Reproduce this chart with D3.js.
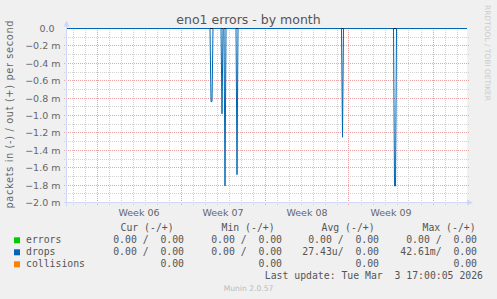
<!DOCTYPE html>
<meta charset="utf-8">
<script src="https://d3js.org/d3.v7.min.js"></script>
<style>
  body { margin: 0; background: #f0f0f0; }
  svg text { font-family: 'DejaVu Sans', sans-serif; fill: #666666; }
  svg text.mono { font-family: 'DejaVu Sans Mono', monospace; white-space: pre; fill: #555555; }
</style>
<body>
<div id="my_dataviz"></div>

<script>
// series shown in the legend
var seriesNames = ["errors", "drops", "collisions"];
var seriesColors = ["#00cc00", "#0066b3", "#ff8000"];

// drops (in) non-zero samples (2 h steps), in milli-packets per second, drawn negative
var dropTimes = ["2026-02-11T12:00:00Z", "2026-02-11T14:00:00Z", "2026-02-12T10:00:00Z",
                 "2026-02-12T16:00:00Z", "2026-02-13T16:00:00Z", "2026-02-22T11:00:00Z",
                 "2026-02-26T19:00:00Z", "2026-02-26T21:00:00Z"];
var dropValues = [-0.84, -0.84, -0.98, -1.81, -1.68, -1.25, -1.81, -1.81];

var weekLabels = ["Week 06", "Week 07", "Week 08", "Week 09"];

// legend table (in / out)
var curIn  = ["0.00", "0.00", null],   curOut = ["0.00", "0.00", "0.00"];
var minIn  = ["0.00", "0.00", null],   minOut = ["0.00", "0.00", "0.00"];
var avgIn  = ["0.00", "27.43u", null], avgOut = ["0.00", "0.00", "0.00"];
var maxIn  = ["0.00", "42.61m", null], maxOut = ["0.00", "0.00", "0.00"];

var W = 497, H = 299;
var pL = 67, pR = 467, pT = 28, pB = 203;

var svg = d3.select("#my_dataviz")
  .append("svg")
    .attr("width", W)
    .attr("height", H);

svg.append("rect").attr("width", W).attr("height", H).attr("fill", "#f0f0f0");
svg.append("rect")
  .attr("x", pL).attr("y", pT)
  .attr("width", pR - pL).attr("height", pB - pT)
  .attr("fill", "#ffffff");

var t0 = new Date("2026-01-30T12:00:00Z"),
    t1 = new Date("2026-03-04T20:00:00Z");
var x = d3.scaleUtc().domain([t0, t1]).range([pL, pR]);
var y = d3.scaleLinear().domain([-2, 0]).range([pB - 0.5, pT + 0.5]);

function px(v) { return Math.round(v - 0.5) + 0.5; }

// horizontal grid
var yTicks = d3.range(-20, 1).map(function(i) { return i / 10; });
svg.append("g").selectAll("line")
  .data(yTicks.filter(function(v) { return v > -2 && v < 0; }))
  .enter().append("line")
    .attr("x1", pL - 3).attr("x2", pR + 3)
    .attr("y1", function(d) { return px(y(d)); })
    .attr("y2", function(d) { return px(y(d)); })
    .attr("stroke", function(d) { return Math.round(d * 10) % 2 === 0 ? "#e8a4a4" : "#d2d2d2"; })
    .attr("stroke-dasharray", "1,1");

// vertical grid: days minor, weeks major
var days = d3.utcDay.range(t0, t1);
var mondays = d3.utcMonday.range(t0, t1);
svg.append("g").selectAll("line")
  .data(days.filter(function(d) { return d.getUTCDay() !== 1; }))
  .enter().append("line")
    .attr("x1", function(d) { return px(x(d)); })
    .attr("x2", function(d) { return px(x(d)); })
    .attr("y1", pT).attr("y2", pB + 2)
    .attr("stroke", "#d2d2d2")
    .attr("stroke-dasharray", "1,1");
svg.append("g").selectAll("line")
  .data(mondays)
  .enter().append("line")
    .attr("x1", function(d) { return px(x(d)); })
    .attr("x2", function(d) { return px(x(d)); })
    .attr("y1", pT).attr("y2", pB + 3)
    .attr("stroke", "#e8a4a4")
    .attr("stroke-dasharray", "1,1");

// axes
svg.append("line").attr("x1", pL - 0.5).attr("x2", pL - 0.5)
  .attr("y1", pT - 2).attr("y2", pB + 3).attr("stroke", "#cfd6f8");
svg.append("line").attr("x1", pL - 3).attr("x2", pR + 2)
  .attr("y1", pB - 0.5).attr("y2", pB - 0.5).attr("stroke", "#cfd6f8");
svg.append("path").attr("d", "M63.5,26.5L69.5,26.5L66.5,20.5Z").attr("fill", "#cfd6f8");
svg.append("path").attr("d", "M467,199.5L467,205.5L473,202.5Z").attr("fill", "#cfd6f8");

// y tick labels
svg.append("g").selectAll("text")
  .data(yTicks.filter(function(v, i) { return i % 2 === 0; }))
  .enter().append("text")
    .attr("x", function(d) { return d === 0 ? 54.5 : 60.5; })
    .attr("y", function(d) { return y(d) + 3.4; })
    .attr("text-anchor", "end")
    .style("font-size", "9.5px")
    .text(function(d) { return d === 0 ? "0.0" : d3.format(".1f")(d) + " m"; });

// x labels in the middle of each week
svg.append("g").selectAll("text")
  .data(mondays.slice(0, weekLabels.length))
  .enter().append("text")
    .attr("x", function(d) { return x(d3.utcHour.offset(d, 84)); })
    .attr("y", 216)
    .attr("text-anchor", "middle")
    .style("font-size", "9.5px")
    .text(function(d, i) { return weekLabels[i]; });

// zero line
svg.append("line").attr("x1", pL).attr("x2", pR)
  .attr("y1", y(0)).attr("y2", y(0)).attr("stroke", "#111111");

// drops (in) line: zero samples around each run of non-zero samples
var step = 2 * 3600 * 1000;
var samples = dropTimes.map(function(s, i) { return [new Date(s), dropValues[i]]; });
var pts = [[t0, 0]];
samples.forEach(function(p, i) {
  var prev = samples[i - 1], next = samples[i + 1];
  if (!prev || p[0] - prev[0] > step) pts.push([new Date(+p[0] - step), 0]);
  pts.push(p);
  if (!next || next[0] - p[0] > step) pts.push([new Date(+p[0] + step), 0]);
});
pts.push([t1, 0]);
svg.append("path")
  .datum(pts)
  .attr("fill", "none")
  .attr("stroke", "#0066b3")
  .attr("stroke-width", 1)
  .attr("d", d3.line().x(function(d) { return x(d[0]); }).y(function(d) { return y(d[1]); }));

// titles
svg.append("text").attr("x", 248.5).attr("y", 23.5).attr("text-anchor", "middle")
  .style("font-size", "12.5px").style("fill", "#555555").text("eno1 errors - by month");
svg.append("text").attr("transform", "translate(13,114.5) rotate(-90)")
  .attr("text-anchor", "middle").style("font-size", "9.8px")
  .attr("textLength", 188).attr("lengthAdjust", "spacing")
  .text("packets in (-) / out (+) per second");
svg.append("text").attr("transform", "translate(484.5,5) rotate(90)")
  .style("font-size", "7.5px").style("fill", "#cccccc")
  .attr("textLength", 96).attr("lengthAdjust", "spacing")
  .text("RRDTOOL / TOBI OETIKER");

// legend
var fs = "9.8px";
var heads = ["Cur (-/+)", "Min (-/+)", "Avg (-/+)", "Max (-/+)"];
var headX = [120.5, 221.5, 321.5, 422.5];
var colEnd = [184, 282, 379, 477];
heads.forEach(function(h, i) {
  svg.append("text").attr("class", "mono").attr("x", headX[i]).attr("y", 231)
    .style("font-size", fs).text(h);
});
var cols = [[curIn, curOut], [minIn, minOut], [avgIn, avgOut], [maxIn, maxOut]];
seriesNames.forEach(function(name, r) {
  var by = 243 + r * 12;
  svg.append("rect").attr("x", 14).attr("y", by - 5.7).attr("width", 6).attr("height", 6)
    .attr("fill", seriesColors[r]);
  svg.append("text").attr("class", "mono").attr("x", 26).attr("y", by)
    .style("font-size", fs).text(name);
  cols.forEach(function(c, j) {
    var inV = c[0][r], outV = c[1][r];
    var s;
    if (inV === null) s = outV;
    else {
      var unit = /[a-z]$/i.test(inV) ? "" : " ";
      s = inV + unit + "/  " + outV;
    }
    svg.append("text").attr("class", "mono").attr("x", colEnd[j]).attr("y", by)
      .attr("text-anchor", "end").style("font-size", fs).text(s);
  });
});
svg.append("text").attr("class", "mono").attr("x", 483).attr("y", 279)
  .attr("text-anchor", "end").style("font-size", fs)
  .text("Last update: Tue Mar  3 17:00:05 2026");
svg.append("text").attr("x", 248.5).attr("y", 291).attr("text-anchor", "middle")
  .style("font-size", "7.6px").style("fill", "#bbbbbb").text("Munin 2.0.57");
</script>
</body>
